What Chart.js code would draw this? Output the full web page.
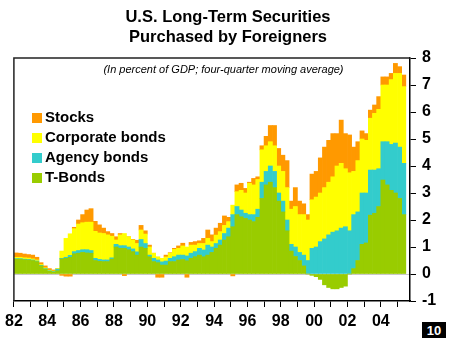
<!DOCTYPE html>
<html lang="en">
<head>
<meta charset="UTF-8">
<title>U.S. Long-Term Securities Purchased by Foreigners</title>
<script src="https://cdn.jsdelivr.net/npm/chart.js"></script>
<style>
body { margin: 0; background: #fff; }
#wrap { position: relative; width: 450px; height: 338px; font-family: "Liberation Sans", Arial, sans-serif; }
#wrap canvas { position: absolute; left: 0; top: 0; }
.title { position: absolute; left: 0; top: 6px; width: 456px; text-align: center; font-weight: bold; font-size: 16.5px; line-height: 20px; color: #000; }
.note { position: absolute; left: 0; top: 63px; width: 447px; text-align: center; font-style: italic; font-size: 11px; color: #000; }
.legend { position: absolute; left: 32px; top: 107px; }
.legend div { height: 20px; line-height: 20px; font-weight: bold; font-size: 15px; color: #000; white-space: nowrap; }
.legend span { display: inline-block; width: 10px; height: 10px; margin-right: 3px; vertical-align: -1px; }
.page { position: absolute; left: 422px; top: 322px; width: 24px; height: 16px; background: #000; color: #fff; font-weight: bold; font-size: 13px; line-height: 17px; text-align: center; }
</style>
</head>
<body>
<div id="wrap">
  <canvas id="chart" width="450" height="338"></canvas>
  <div class="title">U.S. Long-Term Securities<br>Purchased by Foreigners</div>
  <div class="note">(In percent of GDP; four-quarter moving average)</div>
  <div class="legend" id="legend"></div>
  <div class="page">10</div>
</div>
<script>
// quarterly data, 1982Q1 - 2005Q2, percent of GDP
const firstYear = 1982;
const yearTicks = ['82', '84', '86', '88', '90', '92', '94', '96', '98', '00', '02', '04'];

const tBonds = [
  0.55, 0.55, 0.53, 0.52, 0.50, 0.46, 0.30, 0.18, 0.10, 0.07, 0.12, 0.56,
  0.58, 0.62, 0.75, 0.77, 0.80, 0.78, 0.77, 0.50, 0.47, 0.46, 0.46, 0.55,
  1.00, 0.95, 0.95, 0.90, 0.83, 0.70, 1.00, 0.95, 0.64, 0.46, 0.42, 0.33,
  0.33, 0.46, 0.46, 0.52, 0.54, 0.49, 0.58, 0.64, 0.70, 0.64, 0.70, 0.80,
  0.95, 1.07, 1.26, 1.38, 1.75, 2.20, 2.12, 2.06, 2.00, 1.94, 2.10, 2.80,
  3.30, 3.40, 3.20, 2.70, 2.30, 1.60, 0.85, 0.65, 0.50, 0.30, 0.00, -0.05,
  -0.10, -0.20, -0.40, -0.50, -0.55, -0.55, -0.50, -0.45, 0.00, 0.20, 0.50, 1.10,
  1.15, 2.18, 2.25, 2.50, 3.48, 3.30, 3.10, 3.00, 2.80, 2.20
];
const agencyBonds = [
  0.02, 0.02, 0.02, 0.02, 0.02, 0.02, 0.02, 0.02, 0.02, 0.02, 0.06, 0.02,
  0.04, 0.07, 0.08, 0.10, 0.10, 0.12, 0.10, 0.08, 0.07, 0.06, 0.06, 0.05,
  0.10, 0.10, 0.10, 0.10, 0.10, 0.12, 0.28, 0.18, 0.06, 0.12, 0.10, 0.12,
  0.15, 0.12, 0.18, 0.18, 0.16, 0.18, 0.19, 0.19, 0.25, 0.25, 0.37, 0.20,
  0.18, 0.19, 0.24, 0.32, 0.45, 0.30, 0.25, 0.19, 0.20, 0.26, 0.30, 0.60,
  0.50, 0.60, 0.60, 0.30, 0.40, 0.40, 0.25, 0.35, 0.30, 0.40, 0.50, 0.95,
  1.00, 1.20, 1.30, 1.45, 1.55, 1.60, 1.70, 1.75, 1.60, 2.00, 1.80, 1.90,
  1.85, 1.67, 1.60, 1.40, 1.42, 1.60, 1.70, 1.85, 1.90, 1.90
];
const corporateBonds = [
  0.05, 0.05, 0.05, 0.05, 0.04, 0.04, 0.03, 0.03, 0.02, 0.02, 0.02, 0.27,
  0.70, 0.80, 0.85, 0.98, 1.00, 1.02, 1.05, 1.00, 0.98, 0.98, 0.93, 0.80,
  0.16, 0.40, 0.45, 0.38, 0.33, 0.31, 0.35, 0.35, 0.30, 0.19, 0.12, 0.13,
  0.15, 0.19, 0.27, 0.25, 0.34, 0.33, 0.30, 0.24, 0.18, 0.24, 0.25, 0.20,
  0.31, 0.31, 0.30, 0.24, 0.35, 0.55, 0.73, 0.75, 1.16, 1.10, 1.10, 1.20,
  0.95, 0.90, 0.95, 1.00, 1.10, 1.20, 1.30, 1.50, 1.40, 1.50, 1.50, 1.80,
  1.85, 1.80, 1.90, 1.95, 2.05, 2.40, 2.40, 2.15, 2.15, 1.60, 1.90, 2.00,
  1.95, 1.92, 2.10, 2.20, 2.10, 2.10, 2.40, 2.58, 2.73, 2.84
];
const stocks = [
  0.16, 0.15, 0.14, 0.13, 0.14, 0.10, 0.07, 0.07, 0.06, 0.04, 0.00, -0.05,
  -0.08, -0.08, 0.05, 0.15, 0.30, 0.45, 0.50, 0.37, 0.30, 0.20, 0.12, 0.10,
  0.12, 0.05, -0.06, 0.00, 0.02, 0.12, 0.17, 0.12, 0.07, 0.00, -0.12, -0.12,
  0.07, 0.02, 0.04, 0.09, 0.10, -0.12, 0.10, 0.13, 0.10, 0.19, 0.31, 0.25,
  0.26, 0.31, 0.35, 0.16, -0.07, 0.25, 0.26, 0.17, 0.04, 0.24, 0.10, 0.15,
  0.35, 0.60, 0.75, 0.65, 0.60, 1.00, 0.30, 0.70, 0.50, 0.40, 0.20, 0.95,
  0.95, 1.30, 1.50, 1.55, 1.60, 1.20, 1.60, 1.30, 1.40, 0.90, 0.70, 0.30,
  0.25, 0.30, 0.31, 0.47, 0.30, 0.30, 0.23, 0.37, 0.25, 0.43
];

const series = [
  { label: 'T-Bonds', data: tBonds, color: '#99CC00' },
  { label: 'Agency bonds', data: agencyBonds, color: '#33CCCC' },
  { label: 'Corporate bonds', data: corporateBonds, color: '#FFFF00' },
  { label: 'Stocks', data: stocks, color: '#FF9900' }
];

// bar centre = middle of its quarter on a year axis
const quarterX = tBonds.map((v, i) => firstYear + i / 4 + 0.125);
const yearValues = [];
for (let y = firstYear; y <= 2005; y++) yearValues.push(y);

// html legend, top entry = top of the stack
document.getElementById('legend').innerHTML = series.slice().reverse()
  .map(s => `<div><span style="background:${s.color}"></span>${s.label}</div>`).join('');

const frame = {
  id: 'frame',
  afterDraw(chart) {
    const { ctx, chartArea: a } = chart;
    ctx.save();
    ctx.strokeStyle = '#222';
    ctx.lineWidth = 1.5;
    ctx.beginPath();
    ctx.moveTo(a.left, a.bottom);
    ctx.lineTo(a.left, a.top);
    ctx.lineTo(a.right, a.top);
    ctx.stroke();
    ctx.restore();
  }
};

const axisFont = { family: '"Liberation Sans", Arial, sans-serif', weight: 'bold', size: 16 };

new Chart(document.getElementById('chart'), {
  type: 'bar',
  data: {
    datasets: series.map(s => ({
      label: s.label,
      data: s.data.map((v, i) => ({ x: quarterX[i], y: v })),
      backgroundColor: s.color,
      borderWidth: 0,
      barPercentage: 1,
      categoryPercentage: 1
    }))
  },
  options: {
    responsive: false,
    animation: false,
    layout: { padding: { top: 58, left: 12, right: 0, bottom: 0 } },
    plugins: { legend: { display: false }, tooltip: { enabled: false } },
    scales: {
      x: {
        type: 'linear',
        stacked: true,
        offset: false,
        min: 1982,
        max: 2005.75,
        afterFit: s => { s.height = 37; },
        afterBuildTicks: s => { s.ticks = yearValues.map(v => ({ value: v })); },
        grid: { offset: false, drawOnChartArea: false, drawTicks: true, tickLength: 6, color: '#000' },
        border: { display: true, color: '#000', width: 1.5 },
        ticks: {
          autoSkip: false,
          maxRotation: 0,
          padding: 5,
          color: '#000',
          font: axisFont,
          callback: v => ((v - firstYear) % 2 === 0 ? yearTicks[(v - firstYear) / 2] || '' : '')
        }
      },
      y: {
        position: 'right',
        stacked: true,
        min: -1,
        max: 8,
        afterFit: s => { s.width = 40; },
        grid: {
          drawOnChartArea: true,
          tickLength: 6,
          tickColor: '#000',
          color: c => (c.tick && c.tick.value === 0 ? '#c8c8c8' : 'rgba(0,0,0,0)')
        },
        border: { display: true, color: '#000', width: 1.5 },
        ticks: { stepSize: 1, padding: 6, color: '#000', font: axisFont }
      }
    }
  },
  plugins: [frame]
});
</script>
</body>
</html>
